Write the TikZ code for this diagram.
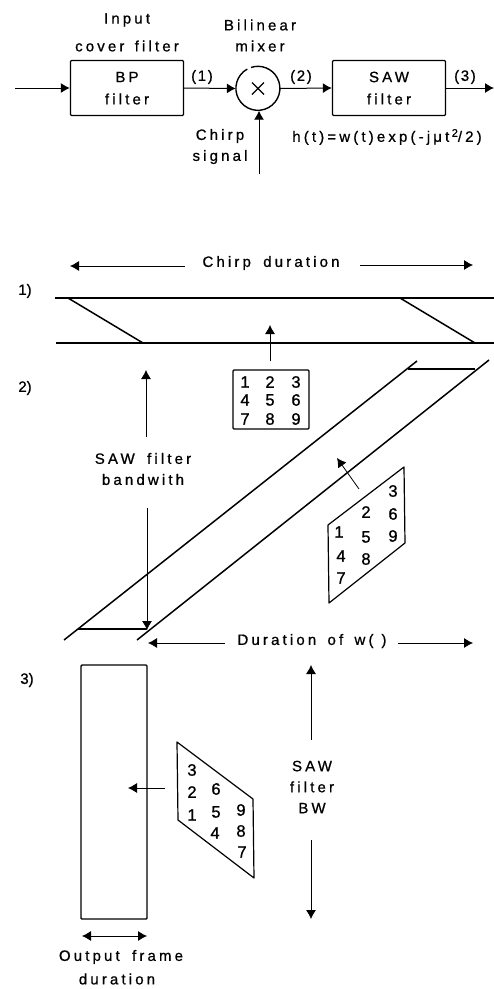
\documentclass[tikz,border=0pt]{standalone}
\usepackage{fontspec}
\setmainfont[LetterSpace=21,FakeBold=0.8]{Liberation Sans}
\newfontfamily\digitfont[FakeBold=1]{Liberation Sans}
\newfontfamily\formulafont[LetterSpace=11,FakeBold=0.8]{Liberation Sans}
\usetikzlibrary{arrows.meta}
\tikzset{
  lbl/.style={inner sep=0pt,font=\fontsize{15}{15}\selectfont,align=center},
  dig/.style={inner sep=0pt,font=\digitfont\fontsize{16.5}{16.5}\selectfont},
  blockbox/.style={draw,line width=1.4pt,rounded corners=1pt,inner sep=0pt,minimum width=113pt,minimum height=55pt},
  sig/.style={line width=1pt,-{Latex[length=9pt,width=10pt]}},
  dim/.style={line width=0.8pt,-{Latex[length=9pt,width=10pt]}},
  band/.style={line width=1.9pt},
  ramp/.style={line width=1.5pt},
  frameline/.style={line width=1.2pt,line join=round}
}
\begin{document}
\begin{tikzpicture}[x=1pt,y=-1pt]
\useasboundingbox (0,0) rectangle (494,989);
% block diagram
\node[blockbox] (bp) at (127,88) {};
\node[blockbox] (saw) at (389,88) {};
\node[circle,minimum size=44pt,inner sep=0pt] (mix) at (258,88.5) {};
\draw[line width=1.4pt] (mix.119) arc[start angle=119,end angle=468,radius=22pt];
\draw[line width=1.2pt] (252,82.5) -- (264,94.5) (252,94.5) -- (264,82.5);
\coordinate (in) at (15,88);
\coordinate (out) at (494,88);
\coordinate (ch) at (259,174);
\draw[sig] (in) -- (bp.west);
\draw[sig] (bp.east) -- (mix.west);
\draw[sig] (mix.east) -- (saw.west);
\draw[sig] (saw.east) -- (out);
\draw[sig] (ch) -- (mix.south -| ch);
\node[lbl] (t1) at (127,20) {Input};
\node[lbl] (t2) at (127,46) {cover\hspace{3pt} filter};
\node[lbl] (t3) at (260,25) {Bilinear};
\node[lbl] (t4) at (260,46) {mixer};
\node[lbl] (t5) at (127,77) {BP};
\node[lbl] (t6) at (127,99) {filter};
\node[lbl] (t7) at (389,77) {SAW};
\node[lbl] (t8) at (389,99) {filter};
\node[lbl] (t9) at (202,77) {\formulafont (1)};
\node[lbl] (t10) at (301,77) {\formulafont (2)};
\node[lbl] (t11) at (465,77) {\formulafont (3)};
\node[lbl] (t12) at (220,136) {Chirp};
\node[lbl] (t13) at (220,157) {signal};
\node[lbl] (t14) at (387,137) {h(t)=w(t)exp(-jμt\,\raisebox{5pt}{\fontsize{11}{11}\selectfont 2}/2)};
% panel 1
\node[lbl] (p1) at (25,291) {\digitfont 1)};
\node[lbl] (cd) at (271,263) {Chirp\hspace{5pt} duration};
\coordinate (cdl) at (70,266);
\coordinate (cdr) at (473,265);
\draw[dim] (185,266) -- (cdl);
\draw[dim] (360,265) -- (cdr);
\draw[band] (55,298) -- (494,298);
\draw[band] (56,343) -- (494,343);
\draw[ramp] (68,298) -- (143,343);
\draw[ramp] (400,298) -- (475,343);
% matrix
\node[draw,line width=1.2pt,rounded corners=1pt,minimum width=76pt,minimum height=59pt,inner sep=0pt] (mA) at (271,399.5) {};
\coordinate (aA) at (270,325);
\draw[dim] (mA.north -| aA) ++(0,-8) -- (aA);
\foreach \n/\x/\y in {1/245/382,2/270/382,3/296/382,4/245/400,5/270/400,6/296/400,7/245/419,8/270/419,9/296/419}
  \node[dig] (a\n) at (\x,\y) {\n};
% panel 2
\node[lbl] (p2) at (25,388) {\digitfont 2)};
\draw[ramp] (64,640) -- (417,361);
\draw[ramp] (137,640) -- (489,360);
\draw[ramp] (408,369) -- (475,369);
\draw[ramp] (78,629) -- (147,629);
\node[lbl] (sf) at (143,469) {SAW\hspace{5pt} filter\\[6pt]bandwith};
\coordinate (bu) at (146,370);
\coordinate (bd) at (147,630);
\draw[dim] (146,437) -- (bu);
\draw[dim] (147,508) -- (bd);
\coordinate (q1) at (404,467);
\coordinate (q2) at (405,543);
\coordinate (q3) at (329,603);
\coordinate (q4) at (328,525);
\draw[frameline] (q1) -- (q2) -- (q3) -- (q4) -- cycle;
\coordinate (ab1) at (359,489);
\coordinate (ab2) at (337,458);
\draw[dim] (ab1) -- (ab2);
\foreach \n/\x/\y in {3/393/491,2/366/512,6/393/514,1/339/532,5/366/537,9/393/536,4/341/556,8/366/559,7/341/578}
  \node[dig] (b\n) at (\x,\y) {\n};
\node[lbl] (dw) at (312,641) {Duration\hspace{4pt} of\hspace{4pt} w(\hspace{8pt})};
\coordinate (dl) at (148,643);
\coordinate (dr) at (473,643);
\draw[dim] (225,643) -- (dl);
\draw[dim] (398,643) -- (dr);
% panel 3
\node[lbl] (p3) at (27,680) {\digitfont 3)};
\node[draw,line width=1.4pt,rounded corners=1pt,minimum width=66pt,minimum height=254pt,inner sep=0pt] (fr) at (114,792) {};
\coordinate (r1) at (177,742);
\coordinate (r2) at (253,799);
\coordinate (r3) at (254,878);
\coordinate (r4) at (178,820);
\draw[frameline] (r1) -- (r2) -- (r3) -- (r4) -- cycle;
\coordinate (arr1) at (165,788);
\coordinate (arr2) at (128,788);
\draw[dim] (arr1) -- (arr2);
\foreach \n/\x/\y in {3/192/770,2/192/792,1/192/815,6/216/789,5/216/812,4/215/833,9/241/810,8/241/831,7/242/852}
  \node[dig] (c\n) at (\x,\y) {\n};
\node[lbl] (sb) at (312,787) {SAW\\[6pt]filter\\[6pt]BW};
\coordinate (su) at (311,665);
\coordinate (sd) at (311,919);
\draw[dim] (311,740) -- (su);
\draw[dim] (311,840) -- (sd);
\coordinate (o1) at (82,936);
\coordinate (o2) at (147,936);
\draw[line width=0.8pt,{Latex[length=9pt,width=10pt]}-{Latex[length=9pt,width=10pt]}] (o1) -- (o2);
\node[lbl] (of) at (121,957) {Output\hspace{5pt} frame};
\node[lbl] (od) at (117,979) {duration};
\end{tikzpicture}
\end{document}
